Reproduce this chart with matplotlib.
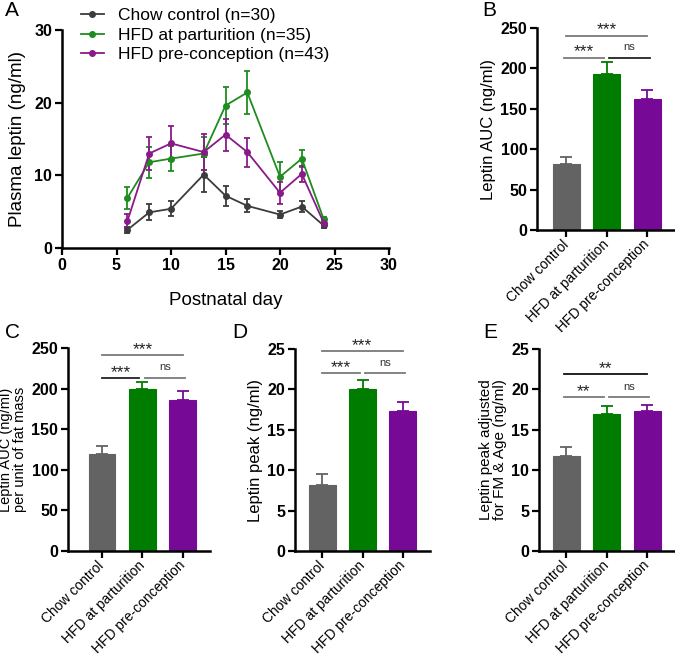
import matplotlib.pyplot as plt
from matplotlib.lines import Line2D
import numpy as np

plt.rcParams['font.family'] = ['Liberation Sans', 'DejaVu Sans']

W, H = 675, 656

# panel A - plasma leptin over postnatal days (mean, sem)
days = [6, 8, 10, 13, 15, 17, 20, 22, 24]
chow_mean = [2.5, 4.9, 5.4, 10.1, 7.2, 5.8, 4.6, 5.7, 3.1]
chow_sem = [0.4, 1.1, 1.0, 2.4, 1.4, 0.9, 0.5, 0.7, 0.3]
part_mean = [6.9, 11.8, 12.3, 13.0, 19.6, 21.4, 9.8, 12.3, 4.0]
part_sem = [1.5, 2.1, 1.7, 2.3, 2.6, 3.0, 2.0, 1.2, 0.3]
pre_mean = [3.7, 13.0, 14.4, 13.2, 15.6, 13.2, 7.6, 10.2, 3.5]
pre_sem = [1.0, 2.3, 2.4, 2.5, 2.2, 2.0, 1.5, 1.1, 0.3]
series_names = ['Chow control (n=30)', 'HFD at parturition (n=35)', 'HFD pre-conception (n=43)']

# bar panels
groups = ['Chow control', 'HFD at parturition', 'HFD pre-conception']
auc = [82, 193, 162]
auc_sem = [8, 14.5, 11.5]
auc_fat = [120, 199, 186]
auc_fat_sem = [9.5, 9.5, 10.5]
peak = [8.2, 20.0, 17.3]
peak_sem = [1.35, 1.2, 1.15]
peak_adj = [11.8, 16.9, 17.3]
peak_adj_sem = [1.1, 1.1, 0.8]

line_cols = ['#3c3c3c', '#1e8c1e', '#8a1a8a']
bar_cols = ['#636363', '#007c00', '#760a96']

fig = plt.figure(figsize=(W / 100, H / 100), dpi=100)


def px_axes(l, t, r, b):
    return fig.add_axes([l / W, 1 - b / H, (r - l) / W, (b - t) / H])


def style(ax):
    ax.spines['top'].set_visible(False)
    ax.spines['right'].set_visible(False)
    for s in ['left', 'bottom']:
        ax.spines[s].set_linewidth(1.8)
    ax.tick_params(width=1.6, length=5, labelsize=11.5, pad=2)
    for lab in ax.get_yticklabels():
        lab.set_fontweight('bold')


# ---- A ----
ax = px_axes(62, 30, 389, 248)
for m, e, c in zip([chow_mean, part_mean, pre_mean], [chow_sem, part_sem, pre_sem], line_cols):
    ax.errorbar(days, m, yerr=e, color=c, marker='o', ms=4, lw=1.3, elinewidth=1.3,
                capsize=2.2, capthick=1.3, clip_on=False)
ax.set_xlim(0, 30)
ax.set_ylim(0, 30)
ax.set_xticks(np.arange(0, 31, 5))
ax.set_yticks([0, 10, 20, 30])
style(ax)
for lab in ax.get_xticklabels():
    lab.set_fontweight('bold')
ax.set_xlabel('Postnatal day', fontsize=13.5, labelpad=14)
ax.set_ylabel('Plasma leptin (ng/ml)', fontsize=13.5, labelpad=6)
handles = [Line2D([], [], color=c, marker='o', ms=4, lw=1.3) for c in line_cols]
ax.legend(handles, series_names, loc='upper left', bbox_to_anchor=(0.032, 1.14), frameon=False,
          fontsize=12.5, handlelength=1.3, handletextpad=0.85, labelspacing=0.25, borderpad=0)
fig.text(5 / W, 1 - 10 / H, 'A', fontsize=15, va='center')


def bar_panel(rect, vals, errs, ylim, yticks, ylabel, ylfs, xleft, sigs, letter, lpos):
    ax = px_axes(*rect)
    x = np.arange(len(groups))
    ax.bar(x, vals, width=0.66, color=bar_cols, edgecolor=bar_cols, linewidth=0.8)
    for xi, v, e, c in zip(x, vals, errs, bar_cols):
        ax.errorbar(xi, v, yerr=[[0], [e]], color=c, elinewidth=1.3, capsize=4, capthick=1.3)
    ax.set_xlim(xleft, 2.68)
    ax.set_ylim(*ylim)
    ax.set_yticks(yticks)
    ax.set_xticks(x)
    style(ax)
    ax.set_xticklabels(groups, rotation=45, ha='right', va='center', rotation_mode='anchor',
                       fontsize=10)
    ax.tick_params(axis='x', pad=4)
    ax.set_ylabel(ylabel, fontsize=ylfs, labelpad=3, linespacing=1.0)
    for x1, x2, y, txt, col in sigs:
        ax.plot([x1, x2], [y, y], color=col, lw=1.3, clip_on=False)
        if '*' in txt:
            ax.annotate(txt, ((x1 + x2) / 2, y), xytext=(0, 1), textcoords='offset points',
                        ha='center', va='baseline', fontsize=12.5, color='#222222')
        else:
            ax.annotate(txt, ((x1 + x2) / 2, y), xytext=(0, 5.5), textcoords='offset points',
                        ha='center', va='baseline', fontsize=8, color='#333333')
    fig.text(lpos[0] / W, 1 - lpos[1] / H, letter, fontsize=15, va='center')
    return ax


gray = '#7a7a7a'
bar_panel((537, 28, 675, 230), auc, auc_sem, (0, 250), [0, 50, 100, 150, 200, 250],
          'Leptin AUC (ng/ml)', 12, -0.72,
          [(0, 2, 240.5, '***', gray), (-0.05, 0.92, 213, '***', gray), (1.05, 2.07, 213, 'ns', '#222222')],
          'B', (482, 10))
bar_panel((68, 348, 210, 551), auc_fat, auc_fat_sem, (0, 250), [0, 50, 100, 150, 200, 250],
          'Leptin AUC (ng/ml)\nper unit of fat mass', 10.5, -0.85,
          [(0, 2, 241, '***', gray), (0, 0.92, 213, '***', '#222222'), (1.07, 2.05, 213, 'ns', gray)],
          'C', (5, 333))
bar_panel((295, 349, 430, 551), peak, peak_sem, (0, 25), [0, 5, 10, 15, 20, 25],
          'Leptin peak (ng/ml)', 12, -0.68,
          [(-0.02, 2, 24.7, '***', gray), (-0.02, 0.95, 22.0, '***', gray), (1.07, 2.07, 22.0, 'ns', gray)],
          'D', (232, 333))
bar_panel((539, 349, 675, 551), peak_adj, peak_adj_sem, (0, 25), [0, 5, 10, 15, 20, 25],
          'Leptin peak adjusted\nfor FM & Age (ng/ml)', 11, -0.67,
          [(-0.05, 2, 21.9, '**', '#111111'), (-0.05, 0.92, 19.0, '**', gray), (1.05, 2.05, 19.0, 'ns', gray)],
          'E', (483, 333))

fig.savefig('out.png', dpi=100)
